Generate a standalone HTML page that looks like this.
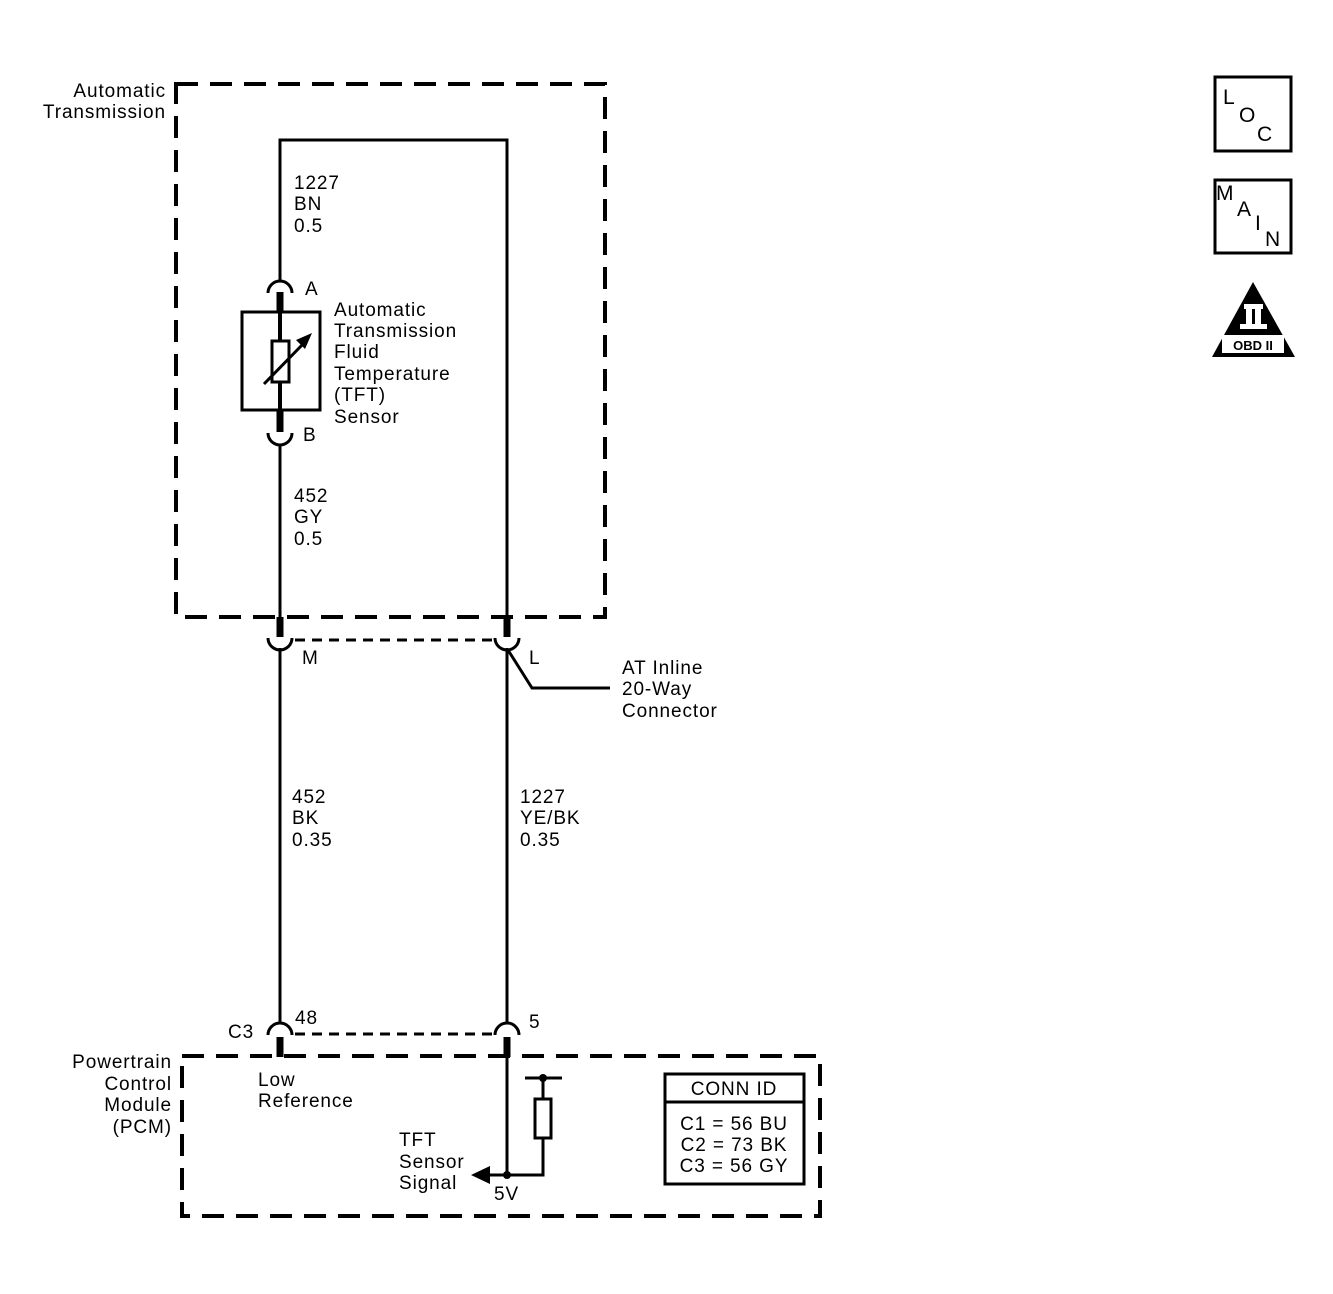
<!DOCTYPE html>
<html><head><style>
html,body{margin:0;padding:0;background:#fff;}
svg{display:block;}
text{font-family:"Liberation Sans",Arial,sans-serif;font-size:19px;letter-spacing:0.9px;fill:#000;}
</style></head><body>
<svg width="1333" height="1294" viewBox="0 0 1333 1294" xmlns="http://www.w3.org/2000/svg">
<g fill="none" stroke="#000">
<rect x="176" y="84" width="429" height="533" stroke-width="4" stroke-dasharray="22 12"/>
<rect x="182" y="1056" width="638" height="160" stroke-width="4" stroke-dasharray="22 12"/>
<polyline points="280,282 280,140 507,140 507,620" stroke-width="3"/>
<line x1="280" y1="445" x2="280" y2="620" stroke-width="3"/>
<line x1="280" y1="648" x2="280" y2="1024" stroke-width="3"/>
<line x1="507" y1="648" x2="507" y2="1024" stroke-width="3"/>
<path d="M268,293 A12,12 0 0 1 292,293" stroke-width="3"/>
<line x1="280" y1="292" x2="280" y2="313" stroke-width="7"/>
<rect x="242" y="312" width="78" height="98" stroke-width="3"/>
<rect x="272" y="341" width="17" height="41" stroke-width="3"/>
<line x1="280" y1="313" x2="280" y2="341" stroke-width="4"/>
<line x1="280" y1="382" x2="280" y2="410" stroke-width="4"/>
<line x1="264" y1="384" x2="304" y2="343" stroke-width="3"/>
<line x1="280" y1="410" x2="280" y2="432" stroke-width="7"/>
<path d="M268,433 A12,12 0 0 0 292,433" stroke-width="3"/>
<line x1="280" y1="617" x2="280" y2="637" stroke-width="7"/>
<line x1="507" y1="617" x2="507" y2="637" stroke-width="7"/>
<path d="M268,638 A12,12 0 0 0 292,638" stroke-width="3"/>
<path d="M495,638 A12,12 0 0 0 519,638" stroke-width="3"/>
<line x1="295" y1="640" x2="492" y2="640" stroke-width="3" stroke-dasharray="10 7"/>
<polyline points="508,650 532,688 610,688" stroke-width="3"/>
<path d="M268,1035 A12,12 0 0 1 292,1035" stroke-width="3"/>
<path d="M495,1035 A12,12 0 0 1 519,1035" stroke-width="3"/>
<line x1="295" y1="1034" x2="492" y2="1034" stroke-width="3" stroke-dasharray="10 7"/>
<line x1="280" y1="1037" x2="280" y2="1057" stroke-width="7"/>
<line x1="507" y1="1037" x2="507" y2="1057" stroke-width="7"/>
<line x1="507" y1="1057" x2="507" y2="1175" stroke-width="3"/>
<polyline points="490,1175 543,1175 543,1138" stroke-width="3"/>
<rect x="535" y="1099" width="16" height="39" stroke-width="3"/>
<line x1="543" y1="1099" x2="543" y2="1078" stroke-width="3"/>
<line x1="525" y1="1078" x2="562" y2="1078" stroke-width="3"/>
<rect x="665" y="1074" width="139" height="110" stroke-width="3"/>
<line x1="665" y1="1102" x2="804" y2="1102" stroke-width="3"/>
<rect x="1215" y="77" width="76" height="74" stroke-width="3"/>
<rect x="1215" y="180" width="76" height="73" stroke-width="3"/>
</g>
<circle cx="507" cy="1175" r="4"/>
<circle cx="543" cy="1078" r="4"/>
<polygon points="471,1175 490,1166 490,1184"/>
<polygon points="312,333 296,340 305,349"/>
<polygon points="1253,282 1212,357 1295,357"/>
<rect x="1244" y="304" width="19" height="5" fill="#fff"/>
<rect x="1240" y="324" width="27" height="5" fill="#fff"/>
<rect x="1246" y="308" width="6" height="17" fill="#fff"/>
<rect x="1255" y="308" width="6" height="17" fill="#fff"/>
<rect x="1222" y="335" width="62" height="18" fill="#fff"/>
<text x="1253" y="350" text-anchor="middle" style="font-size:13px;font-weight:bold;letter-spacing:0">OBD II</text>

<text x="1223" y="104" style="font-size:21px">L</text>
<text x="1239" y="122" style="font-size:21px">O</text>
<text x="1257" y="141" style="font-size:21px">C</text>
<text x="1216" y="200" style="font-size:21px">M</text>
<text x="1237" y="216" style="font-size:21px">A</text>
<text x="1255" y="230" style="font-size:21px">I</text>
<text x="1265" y="246" style="font-size:21px">N</text>

<text x="166" y="97" text-anchor="end">Automatic</text>
<text x="166" y="118" text-anchor="end">Transmission</text>
<text x="294" y="189">1227</text>
<text x="294" y="210">BN</text>
<text x="294" y="232">0.5</text>
<text x="305" y="295">A</text>
<text x="334" y="316">Automatic</text>
<text x="334" y="337">Transmission</text>
<text x="334" y="358">Fluid</text>
<text x="334" y="380">Temperature</text>
<text x="334" y="401">(TFT)</text>
<text x="334" y="423">Sensor</text>
<text x="303" y="441">B</text>
<text x="294" y="502">452</text>
<text x="294" y="523">GY</text>
<text x="294" y="545">0.5</text>
<text x="302" y="664">M</text>
<text x="529" y="664">L</text>
<text x="622" y="674">AT Inline</text>
<text x="622" y="695">20-Way</text>
<text x="622" y="717">Connector</text>
<text x="292" y="803">452</text>
<text x="292" y="824">BK</text>
<text x="292" y="846">0.35</text>
<text x="520" y="803">1227</text>
<text x="520" y="824">YE/BK</text>
<text x="520" y="846">0.35</text>
<text x="228" y="1038">C3</text>
<text x="295" y="1024">48</text>
<text x="529" y="1028">5</text>
<text x="172" y="1068" text-anchor="end">Powertrain</text>
<text x="172" y="1090" text-anchor="end">Control</text>
<text x="172" y="1111" text-anchor="end">Module</text>
<text x="172" y="1133" text-anchor="end">(PCM)</text>
<text x="258" y="1086">Low</text>
<text x="258" y="1107">Reference</text>
<text x="399" y="1146">TFT</text>
<text x="399" y="1168">Sensor</text>
<text x="399" y="1189">Signal</text>
<text x="494" y="1200">5V</text>
<text x="734" y="1095" text-anchor="middle">CONN ID</text>
<text x="734" y="1130" text-anchor="middle">C1 = 56 BU</text>
<text x="734" y="1151" text-anchor="middle">C2 = 73 BK</text>
<text x="734" y="1172" text-anchor="middle">C3 = 56 GY</text>
</svg>
</body></html>
